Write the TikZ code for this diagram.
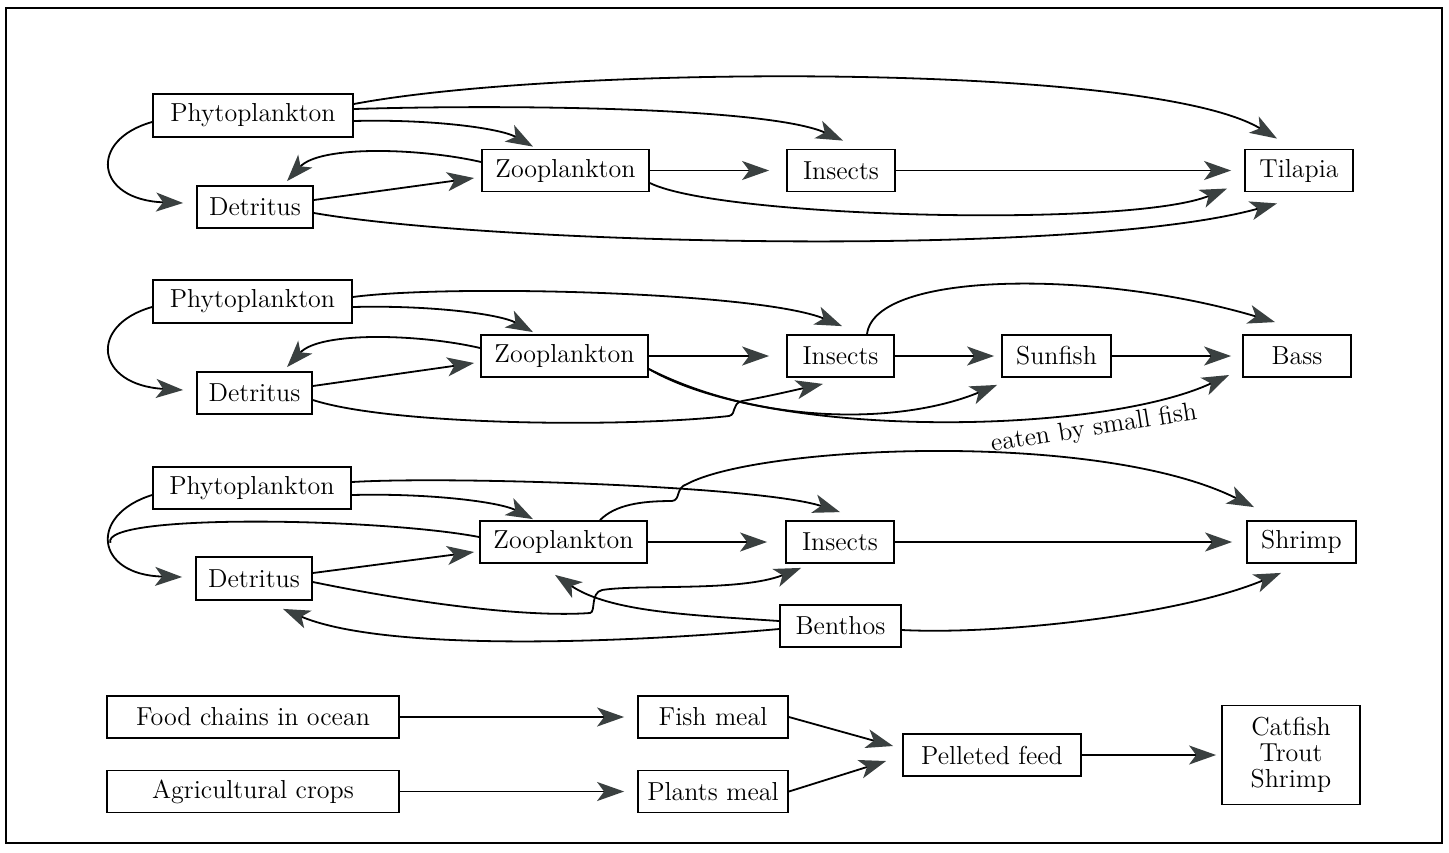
\documentclass[tikz,border=0pt]{standalone}
\usetikzlibrary{arrows.meta,calc}
\definecolor{tipgray}{RGB}{58,64,64}
\begin{document}
\begin{tikzpicture}[x=0.5pt,y=-0.5pt,
  box/.style={draw, line width=0.9pt, inner sep=0pt, font=\fontsize{13}{13.5}\selectfont},
  sz/.style 2 args={minimum width=#1*0.5pt, minimum height=#2*0.5pt},
  arr/.style={line width=0.9pt, -{Stealth[length=13.5pt,width=9.5pt,inset=3.5pt,color=tipgray]}},
  ln/.style={line width=0.9pt}]
\useasboundingbox (0,0) rectangle (1449,852);
\draw[line width=1pt] (6,8) rectangle (1442,843);

% ---------- row 1 ----------
\node[box,sz={200}{43}] (phy1) at (253,115.5) {Phytoplankton};
\node[box,sz={116}{42}] (det1) at (255,207) {Detritus};
\node[box,sz={167}{42}] (zoo1) at (565.5,170.5) {Zooplankton};
\node[box,sz={108}{42}] (ins1) at (841,170.5) {Insects};
\node[box,sz={108}{42}] (til) at (1299,170.5) {Tilapia};

\draw[arr] ([shift={(0,-11.5)}]phy1.east) .. controls (560,65) and (1150,62) .. ([shift={(-22,-10)}]til.north);
\draw[arr] ([shift={(0,-6.5)}]phy1.east) .. controls (520,104) and (770,108) .. ([shift={(2,-8)}]ins1.north);
\draw[arr] ([shift={(0,5.5)}]phy1.east) .. controls (430,119) and (500,128) .. ([shift={(-32.5,-2)}]zoo1.north);
\draw[arr] ([shift={(0,6.5)}]phy1.west) .. controls (88,140) and (95,200) .. ([shift={(-13,-4)}]det1.west);
\draw[arr] ([shift={(0,-8.5)}]zoo1.west) .. controls (420,148) and (320,145) .. ([shift={(32,-4)}]det1.north);
\draw[arr] ([shift={(0,-7)}]det1.east) -- ([shift={(-7,7.5)}]zoo1.west);
\draw[arr] ([shift={(0,6)}]det1.east) .. controls (500,245) and (1080,258) .. ([shift={(-22,11)}]til.south);
\draw[arr] ([shift={(0,12.5)}]zoo1.east) .. controls (720,218) and (1130,228) .. ([shift={(-17,18)}]til.west);
\draw[arr] (zoo1.east) -- ([shift={(-17,0)}]ins1.west);
\draw[arr] (ins1.east) -- ([shift={(-13,0)}]til.west);

% ---------- row 2 ----------
\node[box,sz={199}{43}] (phy2) at (252.5,301.5) {Phytoplankton};
\node[box,sz={115}{42}] (det2) at (254.5,393) {Detritus};
\node[box,sz={167}{42}] (zoo2) at (564.5,356) {Zooplankton};
\node[box,sz={107}{42}] (ins2) at (840.5,356) {Insects};
\node[box,sz={109}{42}] (sun) at (1056.5,356) {Sunfish};
\node[box,sz={108}{42}] (bass) at (1297,356) {Bass};

\draw[arr] ([shift={(0,-4.5)}]phy2.east) .. controls (450,284) and (760,292) .. ([shift={(1.5,-8)}]ins2.north);
\draw[arr] ([shift={(0,5.5)}]phy2.east) .. controls (430,305) and (500,314) .. ([shift={(-31.5,-2)}]zoo2.north);
\draw[arr] ([shift={(0,5.5)}]phy2.west) .. controls (88,325) and (95,385) .. ([shift={(-13,-3)}]det2.west);
\draw[arr] ([shift={(0,-8)}]zoo2.west) .. controls (420,334) and (320,331) .. ([shift={(32.5,-4)}]det2.north);
\draw[arr] ([shift={(0,-7)}]det2.east) -- ([shift={(-6,7)}]zoo2.west);
\draw[arr] (zoo2.east) -- ([shift={(-17,0)}]ins2.west);
\draw[arr] (ins2.east) -- ([shift={(-7,0)}]sun.west);
\draw[arr] (sun.east) -- ([shift={(-11,0)}]bass.west);
\draw[arr] ([shift={(26.5,0)}]ins2.north) .. controls (875,270) and (1100,270) .. ([shift={(-22,-12)}]bass.north);
\draw[arr] ([shift={(0,7)}]det2.east) .. controls (390,425) and (620,428) .. (729,416)
   .. controls (737,414) and (731,404) .. (742,401)
   .. controls (770,396) and (795,390) .. ([shift={(-17.5,6)}]ins2.south);
\draw[arr] ([shift={(0,13)}]zoo2.east) .. controls (760,425) and (900,425) .. ([shift={(-4,7)}]sun.south west);
\draw[arr] ([shift={(0,13)}]zoo2.east) .. controls (770,440) and (1100,435) .. ([shift={(-13,19)}]bass.west);
\node[font=\fontsize{13}{13.5}\selectfont, rotate=9] (lbl) at (1094,429) {eaten by small fish};

% ---------- row 3 ----------
\node[box,sz={198}{42}] (phy3) at (252,488) {Phytoplankton};
\node[box,sz={116}{43}] (det3) at (254,578.5) {Detritus};
\node[box,sz={167}{42}] (zoo3) at (563.5,542) {Zooplankton};
\node[box,sz={108}{42}] (ins3) at (840,542) {Insects};
\node[box,sz={121}{42}] (ben) at (840.5,626) {Benthos};
\node[box,sz={109}{42}] (shr) at (1301.5,542) {Shrimp};

\draw[arr] ([shift={(0,-6)}]phy3.east) .. controls (450,476) and (760,486) .. ([shift={(0,-8)}]ins3.north);
\draw[arr] ([shift={(0,7)}]phy3.east) .. controls (430,493) and (500,502) .. ([shift={(-30.5,-1)}]zoo3.north);
\draw[arr] ([shift={(0,7)}]phy3.west) .. controls (88,515) and (95,575) .. coordinate[pos=0.5] (g3mid) ([shift={(-13,-1.5)}]det3.west);
\draw[ln] ([shift={(0,-5)}]zoo3.west) .. controls (380,518) and (100,513) .. (g3mid);
\draw[arr] ([shift={(0,-5.5)}]det3.east) -- ([shift={(-5,10)}]zoo3.west);
\draw[arr] ([shift={(0,3.5)}]det3.east) .. controls (400,600) and (520,618) .. (590,613)
   .. controls (596,612) and (590,593) .. (602,590)
   .. controls (640,584) and (740,592) .. ([shift={(16,4)}]ins3.south west);
\draw[arr] ([shift={(0,-5)}]ben.west) .. controls (690,615) and (610,612) .. ([shift={(-8.5,11)}]zoo3.south);
\draw[arr] ([shift={(0,3)}]ben.west) .. controls (600,645) and (380,650) .. ([shift={(29,8)}]det3.south);
\draw[arr] ([shift={(0,4)}]ben.east) .. controls (1000,635) and (1180,615) .. ([shift={(-20.5,9)}]shr.south);
\draw[arr] ([shift={(36.5,0)}]zoo3.north) .. controls (615,505) and (640,501) .. (672,501)
   .. controls (681,500) and (675,488) .. (687,484)
   .. controls (760,445) and (1100,430) .. ([shift={(-47.5,-13)}]shr.north);
\draw[arr] (zoo3.east) -- ([shift={(-18,0)}]ins3.west);
\draw[arr] (ins3.east) -- ([shift={(-14,0)}]shr.west);

% ---------- row 4 ----------
\node[box,sz={292}{42}] (food) at (253,717) {Food chains in ocean};
\node[box,sz={292}{42}] (agri) at (253,791.5) {Agricultural crops};
\node[box,sz={150}{42}] (fish) at (713,717) {Fish meal};
\node[box,sz={150}{42}] (plant) at (713,791.5) {Plants meal};
\node[box,sz={178}{42}] (pel) at (992,755) {Pelleted feed};
\node[box,sz={138}{99},align=center,font=\fontsize{13}{13}\selectfont] (cat) at (1291,755) {Catfish\\Trout\\Shrimp};

\draw[arr] (food.east) -- ([shift={(-13,0)}]fish.west);
\draw[arr] (agri.east) -- ([shift={(-13,0)}]plant.west);
\draw[arr] (fish.east) -- ([shift={(-9,-9)}]pel.west);
\draw[arr] (plant.east) -- ([shift={(-16,6)}]pel.west);
\draw[arr] (pel.east) -- ([shift={(-5,0)}]cat.west);
\end{tikzpicture}
\end{document}
